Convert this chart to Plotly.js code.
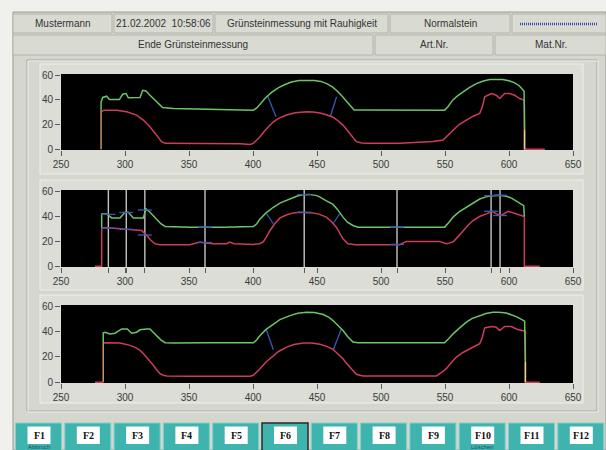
<!DOCTYPE html>
<html><head><meta charset="utf-8">
<script src="https://cdn.plot.ly/plotly-3.0.1.min.js"></script>
<style>html,body{margin:0;padding:0;background:#f0f0ec;}#chart{width:606px;height:450px;}</style>
</head><body><div id="chart"></div>
<script>
// ---------- data ----------
const xTicks = [250, 300, 350, 400, 450, 500, 550, 600, 650];
const yTicks = [0, 20, 40, 60];

const headerRow1 = ["Mustermann", "21.02.2002  10:58:06", "Grünsteinmessung mit Rauhigkeit", "Normalstein"];
const headerRow2 = ["Ende Grünsteinmessung", "Art.Nr.", "Mat.Nr."];
const fKeys = ["F1","F2","F3","F4","F5","F6","F7","F8","F9","F10","F11","F12"];
const fKeyLabels = ["Abbruch","","","","","","","","","Löschen","",""];

// Panel 1
const p1GreenX = [281.3,281.3,282.6,285.7,287.8,295.6,298.2,300.8,302.6,311.7,313.8,316.4,319.5,324.7,329.4,337.8,350.8,369,389.8,400.3,403,406,410,415,420,425,430,436,442,448,453,458,462,466,470,474,477,479,490,514.6,530,549.7,552,556,560,564,569,574.5,580,585,590,595,600,604,608,610.5,611.8,612.2];
const p1GreenY = [31,38.4,42,43,40.3,40.3,44.6,45.2,41.7,42,47.8,47.3,43.8,38.4,33.9,33,32.8,32.3,31.7,31.7,33.5,37.5,42,46.5,50,52.5,54.5,55.7,56,55.8,55,53,50.5,47,42.5,37.5,33.5,31.8,31.8,31.7,31.7,31.7,34,39.8,43.5,46.5,50,53.2,55.3,56.5,56.8,56.5,55.5,54,51.5,49,47,16];
const p1RedX = [281.8,283.5,293.5,301.3,309,314.3,319.5,324.7,328.6,331.3,350.8,379.4,390,397.7,400.3,403,405.5,410,415.9,420,426.3,433,441.9,447,452.3,458,462.5,466,470.3,475.5,480.7,485,488.5,514.6,530,540.6,548.4,552,556.3,561,566.7,572,577.1,579.2,581,586.2,590.1,592.7,596.6,600.5,604.4,608.3,610.9,612,612,628];
const p1RedY = [30.4,31.7,31.7,30.4,27.7,23.7,18.3,11.6,6.2,4.8,4.8,4.8,4.5,3.8,4.8,7.5,10.2,16,22.3,25,27.7,29.5,30.4,30.2,29.4,27.8,26,23.5,19.6,12.9,6.2,5,4.8,4.8,5.5,6.2,7.5,11,15.6,20,23.7,26.8,29,34.4,42.5,45.2,43.8,41.1,45.2,45.2,43.8,41.1,40.3,39,0,0];
const p1BlueX = [411.5,418,null,465.3,460.5];
const p1BlueY = [43,26.3,null,42.5,26.8];
const p1EdgeLX = [281.3,281.3];
const p1EdgeLY = [0,31];
const p1EdgeRX = [612.2,612.2];
const p1EdgeRY = [0,16];

// Panel 2
const p2GreenX = [281.8,281.8,285.7,289.6,296.1,300,302.6,306.5,314.3,316.4,319.5,324.7,328,331.3,350.8,376.8,400.3,403,405.5,410,415.9,421,428.9,434,439.3,444,449.7,452,457,462.5,466,470.3,474,478.1,482,514.6,549.7,553,556.3,561,566.7,572,577.1,582,587.5,593,597.9,602,605.7,609,611.5,612];
const p2GreenY = [30.8,41.9,41.9,38.7,38.7,43.2,43.2,38.7,38.7,45.9,43.2,37.9,34,31.8,31.3,31.3,31.8,34,37.9,42.5,47.2,50.5,53.8,56,57.3,57.5,56.5,55.5,52.5,49.5,45.5,39.3,35,32.6,31.3,31.3,31.3,35,39.3,43.5,47.2,51,53.8,55.5,56.5,56.8,56,54.5,52,50,48.5,40];
const p2RedX = [276.5,281.8,281.8,285.7,296.1,309,313,316.9,320,323.4,327.3,350.8,355,358.6,363,369,379.4,382,385,400.3,405,408,410.5,413.3,417,421.1,426,431.5,436.5,441.9,446.9,452,457.3,461,465.1,468,470.3,474.2,480,488.5,514.6,517,519.8,545.8,548,551,553,556.3,560,564,568,571.9,577,582.3,587,590.1,594,599.2,603.1,608.3,611.5,612,612,624];
const p2RedY = [0,0,30.8,30.8,30,29.2,28.6,24.7,21,18,17.2,17.2,18.5,19.4,18.5,18,18,19.4,18,17.5,18,19.4,23.5,28.6,34,38.7,41,42.7,43.2,43.2,42.7,41.5,39.3,36,31.3,26,22,18,17.2,17.2,17.2,18.5,19.9,19.9,19,18,18.5,19.4,23.5,28.6,32.8,36.6,39.8,41.9,44,41.9,40.6,44,42.7,40.6,39.8,39.8,0,0];
const p2CursorX = [287, 301, 315.5, 362.5, 440, 512.5, 586, 593];
const p2MarkX = [287,287,301,301,315.5,315.5,362.5,362.5,440,440,512.5,512.5,586,586,593,593];
const p2MarkY = [41.5,30.5,43,29.5,45,25,31.3,19,57.3,43.2,31.3,17.5,56.5,44,56.8,40.6];
const p2BlueX = [410.7,415.9,null,467.7,462.5];
const p2BlueY = [41.9,34,null,41.9,34];

// Panel 3
const p3GreenX = [283,283,284.4,288.3,292.2,295,297.4,301.8,305.2,309.1,311.7,316.9,319.5,322,324.7,328,331.3,337.8,363.8,400.3,403,405.5,410,415.9,421,428.9,435,441.9,448,454.9,459,462.5,466,470.3,474,478.1,482,514.6,549.7,553,556.3,561,566.7,571,577.1,582,587.5,592,597.9,602,605.7,609,612.2,612.8];
const p3GreenY = [30.9,39,39.5,38.2,38.7,40.5,42.1,42.1,38.7,39.5,41.4,42.1,42.1,39.5,36.9,33.5,31.2,30.9,31.2,31.2,33.5,36.9,41.5,46.1,49.5,52.6,54.5,55.2,55,53.5,51.5,48.7,45,40.8,36,31.7,31.2,31.2,31.2,34.5,38.2,42.5,47.4,50.3,52.6,54.3,55.2,55.3,54.7,53.5,51.8,50,48.2,16];
const p3RedX = [276.6,283,null,283.5,284.4,296.1,303.9,308,311.7,314.5,316.9,319.5,322.1,325,327.3,330,332.6,350.8,376.8,397.7,400.3,403,405.5,410,415.9,420,426.3,432,439.3,446,452.3,457,462.5,466,470.3,473,475.5,478,480.7,485.9,514.6,543.2,547,551,555,558.9,564,569.3,573,577.1,579.2,581,586.2,590.1,592.7,596.6,601.8,605.7,610.4,612.2,612.8,612.8,624];
const p3RedY = [0,0,null,30.9,31.2,30.9,29.1,27.5,25.1,22.5,19.9,16.8,13.4,9.5,6.8,5.5,5,4.7,5,4.7,5.5,8,10.7,15.8,21.2,24.3,27.7,29.8,30.9,30.9,30,28.5,26,22.8,18.6,15,12,9,6.3,5,5,5,7.5,10.7,15.5,19.9,23.5,26.4,28.5,30.4,35.6,42.9,44,43.5,40.8,44,44,42.1,40.8,40.3,40.3,0,0];
const p3BlueX = [410.2,415.9,null,469,462.5];
const p3BlueY = [42.1,25.7,null,42.1,25.1];
const p3EdgeLX = [283,283];
const p3EdgeLY = [0,30.9];
const p3EdgeRX = [612.8,612.8];
const p3EdgeRY = [0,16];

// ---------- styling helpers ----------
const W = 606, H = 450;
const X = p => p / W;
const Y = p => 1 - p / H;
const GREEN = '#6cc468', RED = '#cc3d5c', BLUE = '#3b58b8', TAN = '#c8946a', PALE = '#d6d890', CURSOR = '#c4c4bc';

const shapes = [];
const annotations = [];
function rect(x0, y0, x1, y1, fill, line, lw) {
  shapes.push({type:'rect', xref:'paper', yref:'paper', x0:X(x0), x1:X(x1), y0:Y(y1), y1:Y(y0),
    fillcolor: fill, line:{color: line || fill, width: lw === undefined ? 1 : lw}, layer:'below'});
}
function hline(x0, x1, y, color, w, dash) {
  shapes.push({type:'line', xref:'paper', yref:'paper', x0:X(x0), x1:X(x1), y0:Y(y), y1:Y(y),
    line:{color, width:w, dash: dash || 'solid'}, layer:'below'});
}
function label(text, cx, cy, size, color, family, anchor) {
  annotations.push({text, x:X(cx), y:Y(cy), xref:'paper', yref:'paper', showarrow:false,
    xanchor: anchor || 'center', yanchor:'middle', font:{size, color, family: family || 'Liberation Sans, Arial, sans-serif'}});
}

// window
rect(13, 12, 606, 450, '#d5d7cf', '#9a9c94', 1);
// header rows
const row1 = [[13,112],[114,213],[215,388],[390,510],[512,606]];
const row2 = [[13,373],[375,493],[495,606]];
row1.forEach((c, i) => { rect(c[0], 14, c[1], 33, '#d9dbd3', '#b4b6ae', 1);
  if (i < headerRow1.length) label(headerRow1[i], (c[0]+c[1])/2, 23.5, 10, '#333333'); });
row2.forEach((c, i) => { rect(c[0], 35, c[1], 55, '#d9dbd3', '#b4b6ae', 1);
  label(headerRow2[i], (c[0]+c[1])/2, 45, 10, '#333333'); });
hline(520, 598, 24, '#3a4aa8', 2.5, '1px,1px');

// group box
rect(27, 60, 597, 411, 'rgba(0,0,0,0)', '#a4a69e', 1);
rect(28, 61, 598, 412, 'rgba(0,0,0,0)', '#eceee8', 1);

// panels and black plot areas
const panels = [[64,174],[180,290],[295,403]];
const plots = [[74,150],[190,267],[305,383]];
panels.forEach(p => rect(40, p[0], 583, p[1], '#dbddd6', '#eeefea', 1));
plots.forEach(p => rect(61, p[0], 573, p[1], '#000000', '#000000', 0));

// function keys
const pitch = 49.3;
fKeys.forEach((k, i) => {
  const x0 = 15.5 + i * pitch;
  rect(x0, 423, x0 + 46, 452, '#3fb4ae', i === 5 ? '#2a2a2a' : '#7fd0cc', i === 5 ? 1.5 : 1);
  rect(x0 + 12, 426.5, x0 + 35, 444, '#ffffff', '#ffffff', 0);
  label('<b>' + k + '</b>', x0 + 23.5, 435.5, 10, '#111111', 'Liberation Serif, DejaVu Serif, serif');
  if (fKeyLabels[i]) label(fKeyLabels[i], x0 + 23, 446.5, 6, '#1f4f63');
});

// ---------- traces ----------
function tr(x, y, color, ax, width, extra) {
  return Object.assign({type:'scatter', mode:'lines', x, y, xaxis:'x'+ax, yaxis:'y'+ax,
    line:{color, width: width || 1.5}, hoverinfo:'skip', cliponaxis:true}, extra || {});
}
const cursorX = [], cursorY = [];
p2CursorX.forEach(v => { cursorX.push(v, v, null); cursorY.push(-0.6, 61, null); });

const data = [
  tr(p1BlueX, p1BlueY, BLUE, '', 1.3),
  tr(p1EdgeLX, p1EdgeLY, TAN, ''),
  tr(p1RedX, p1RedY, RED, ''),
  tr(p1EdgeRX, p1EdgeRY, PALE, ''),
  tr(p1GreenX, p1GreenY, GREEN, ''),

  tr(cursorX, cursorY, CURSOR, '2', 1.4),
  tr(p2BlueX, p2BlueY, BLUE, '2', 1.2),
  tr(p2RedX, p2RedY, RED, '2'),
  tr(p2GreenX, p2GreenY, GREEN, '2'),
  {type:'scatter', mode:'markers', x:p2MarkX, y:p2MarkY, xaxis:'x2', yaxis:'y2', hoverinfo:'skip',
    marker:{symbol:'line-ew-open', size:10, line:{color:BLUE, width:1.3}, color:BLUE}},

  tr(p3BlueX, p3BlueY, BLUE, '3', 1.3),
  tr(p3EdgeLX, p3EdgeLY, TAN, '3'),
  tr(p3RedX, p3RedY, RED, '3'),
  tr(p3EdgeRX, p3EdgeRY, PALE, '3'),
  tr(p3GreenX, p3GreenY, GREEN, '3')
];

// ---------- axes ----------
const tickFont = {family:'Liberation Sans, Arial, sans-serif', size:10, color:'#3c3c3c'};
function xAxis(yAnchor, extraTicks) {
  const vals = xTicks.concat(extraTicks || []);
  const text = xTicks.map(String).concat((extraTicks || []).map(() => ''));
  return {domain:[X(61), X(573)], anchor:yAnchor, range:[250,650], tickmode:'array', tickvals:vals, ticktext:text,
    ticks:'outside', ticklen:5, tickwidth:1, tickcolor:'#5a5a5a', tickfont:tickFont, tickangle:0,
    showgrid:false, zeroline:false, showline:false, automargin:false, fixedrange:true};
}
function yAxis(xAnchor, top, bottom) {
  return {domain:[Y(bottom), Y(top)], anchor:xAnchor, range:[-0.6, 61], tickmode:'array', tickvals:yTicks,
    ticks:'outside', ticklen:5, tickwidth:1, tickcolor:'#5a5a5a', tickfont:tickFont,
    showgrid:false, zeroline:false, showline:false, automargin:false, fixedrange:true};
}

const layout = {
  width: W, height: H, margin:{l:0, r:0, t:0, b:0, pad:0},
  paper_bgcolor:'#f0f0ec', plot_bgcolor:'rgba(0,0,0,0)', showlegend:false,
  xaxis: xAxis('y'), yaxis: yAxis('x', plots[0][0], plots[0][1]),
  xaxis2: xAxis('y2', p2CursorX), yaxis2: yAxis('x2', plots[1][0], plots[1][1]),
  xaxis3: xAxis('y3'), yaxis3: yAxis('x3', plots[2][0], plots[2][1]),
  shapes, annotations
};

Plotly.newPlot('chart', data, layout, {staticPlot:true, displayModeBar:false});
</script></body></html>
